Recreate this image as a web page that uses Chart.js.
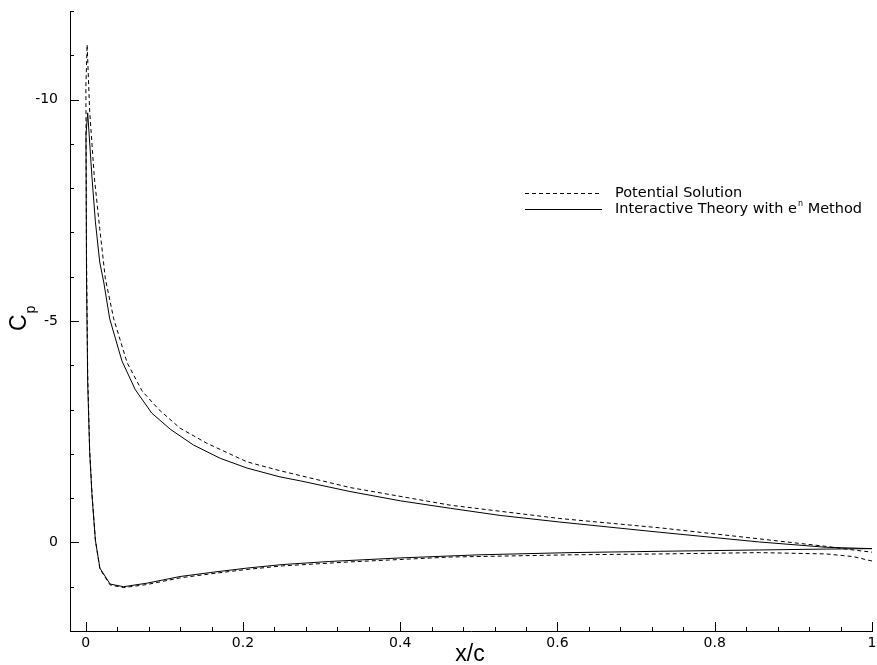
<!DOCTYPE html>
<html>
<head>
<meta charset="utf-8">
<script src="https://cdn.jsdelivr.net/npm/chart.js@4.4.0/dist/chart.umd.min.js"></script>
<style>html,body{margin:0;padding:0;background:#fff}canvas{display:block}</style>
</head>
<body>
<canvas id="cp" width="877" height="665"></canvas>
<script>
// Potential solution (dashed): lower TE -> leading edge -> upper TE
var potX = [1.0, 0.976, 0.942, 0.857, 0.73, 0.616, 0.464, 0.336, 0.25, 0.205, 0.163, 0.12, 0.078, 0.048, 0.031, 0.018, 0.0123, 0.008, 0.005, 0.0025, 0.001, 0.0002,
            0.0018, 0.005, 0.011, 0.0178, 0.025, 0.0356, 0.0526, 0.0717, 0.093, 0.12, 0.154, 0.205, 0.247, 0.336, 0.464, 0.603, 0.73, 0.857, 0.942, 0.976, 1.0];
var potCp = [0.42, 0.32, 0.26, 0.23, 0.26, 0.28, 0.33, 0.44, 0.53, 0.61, 0.70, 0.80, 0.95, 1.02, 0.96, 0.60, -0.05, -1.10, -2.10, -3.80, -6.50, -10.30,
            -11.24, -9.74, -8.23, -7.09, -5.95, -5.05, -4.06, -3.42, -3.00, -2.58, -2.24, -1.82, -1.62, -1.24, -0.84, -0.54, -0.33, -0.08, 0.09, 0.17, 0.22];
// Interactive theory with e^n method (solid)
var intX = [1.0, 0.942, 0.857, 0.73, 0.616, 0.5, 0.4, 0.31, 0.25, 0.205, 0.163, 0.12, 0.078, 0.048, 0.031, 0.018, 0.0123, 0.008, 0.005, 0.0025, 0.001, 0.0003,
            0.0025, 0.008, 0.0123, 0.0178, 0.0229, 0.0305, 0.046, 0.063, 0.084, 0.108, 0.137, 0.171, 0.205, 0.247, 0.273, 0.336, 0.4, 0.464, 0.527, 0.603, 0.73, 0.857, 0.942, 1.0];
var intCp = [0.14, 0.15, 0.17, 0.20, 0.23, 0.28, 0.35, 0.43, 0.50, 0.58, 0.67, 0.77, 0.92, 1.00, 0.94, 0.58, -0.05, -1.05, -2.05, -3.60, -6.00, -9.20,
            -9.70, -8.23, -7.24, -6.33, -5.88, -5.05, -4.10, -3.45, -2.92, -2.55, -2.20, -1.90, -1.68, -1.48, -1.39, -1.15, -0.94, -0.77, -0.61, -0.46, -0.23, -0.01, 0.11, 0.14];

var seriesNames = ['Potential Solution', 'Interactive Theory with e', 'n', ' Method'];
var xMajor = [0, 0.2, 0.4, 0.6, 0.8, 1];
var yMajor = [-10, -5, 0];

var xTickVals = [];
for (var i = 0; i <= 25; i++) xTickVals.push(+(i * 0.04).toFixed(2));
var yTickVals = [];
for (var j = -12; j <= 2; j++) yTickVals.push(j);

function pts(xs, ys) {
    return xs.map(function(x, k) { return {x: x, y: ys[k]}; });
}

var tickFont = {family: 'DejaVu Sans', size: 14};

// inward tick marks, axis titles and the legend box
var decor = {
    id: 'decor',
    afterDraw: function(chart) {
        var ctx = chart.ctx, a = chart.chartArea, sx = chart.scales.x, sy = chart.scales.y;
        ctx.save();
        ctx.strokeStyle = '#000';
        ctx.lineWidth = 1;
        ctx.beginPath();
        xTickVals.forEach(function(v) {
            var px = Math.round(sx.getPixelForValue(v)) + 0.5;
            var len = xMajor.indexOf(v) >= 0 ? 9 : 4;
            ctx.moveTo(px, a.bottom); ctx.lineTo(px, a.bottom - len);
        });
        yTickVals.forEach(function(v) {
            var py = Math.round(sy.getPixelForValue(v)) + 0.5;
            var len = yMajor.indexOf(v) >= 0 ? 9 : 4;
            ctx.moveTo(a.left, py); ctx.lineTo(a.left + len, py);
        });
        ctx.stroke();

        // axis titles
        ctx.fillStyle = '#000';
        ctx.font = '23px "Liberation Sans", Arial, sans-serif';
        ctx.textAlign = 'center';
        ctx.textBaseline = 'alphabetic';
        ctx.fillText('x/c', 470, 661);
        ctx.save();
        ctx.translate(20, 331);
        ctx.rotate(-Math.PI / 2);
        ctx.textAlign = 'left';
        ctx.textBaseline = 'middle';
        ctx.fillText('C', 0, 0);
        var cw = ctx.measureText('C').width;
        ctx.font = '14px "Liberation Sans", Arial, sans-serif';
        ctx.fillText('p', cw + 1, 11);
        ctx.restore();

        // legend
        var lx0 = 525, lx1 = 602, tx = 615, rows = [193, 209];
        var big = '14.5px "DejaVu Sans", sans-serif', small = '8px "DejaVu Sans", sans-serif';
        ctx.font = big;
        ctx.textAlign = 'left';
        ctx.textBaseline = 'middle';
        chart.data.datasets.forEach(function(ds, k) {
            var y = rows[k] + 0.5;
            ctx.setLineDash(ds.borderDash || []);
            ctx.beginPath(); ctx.moveTo(lx0, y); ctx.lineTo(lx1, y); ctx.stroke();
        });
        ctx.setLineDash([]);
        ctx.fillText(seriesNames[0], tx, rows[0]);
        ctx.fillText(seriesNames[1], tx, rows[1]);
        var w1 = ctx.measureText(seriesNames[1]).width;
        ctx.font = small;
        ctx.fillText(seriesNames[2], tx + w1 + 1, rows[1] - 5);
        var w2 = ctx.measureText(seriesNames[2]).width;
        ctx.font = big;
        ctx.fillText(seriesNames[3], tx + w1 + 1 + w2, rows[1]);
        ctx.restore();
    }
};

new Chart(document.getElementById('cp').getContext('2d'), {
    type: 'scatter',
    data: {
        datasets: [
            { label: 'Potential Solution', data: pts(potX, potCp), showLine: true, borderColor: '#000',
              borderWidth: 1, borderDash: [4, 3], pointRadius: 0, tension: 0 },
            { label: 'Interactive Theory with e^n Method', data: pts(intX, intCp), showLine: true, borderColor: '#000',
              borderWidth: 1, pointRadius: 0, tension: 0 }
        ]
    },
    options: {
        responsive: false,
        animation: false,
        layout: { padding: { top: 11, right: 5, left: 0, bottom: 0 } },
        plugins: { legend: { display: false }, tooltip: { enabled: false } },
        scales: {
            x: {
                type: 'linear', min: -0.02, max: 1,
                afterFit: function(s) { s.height = 34; s.paddingLeft = 0; s.paddingRight = 0; },
                afterBuildTicks: function(s) { s.ticks = xTickVals.map(function(v) { return {value: v}; }); },
                grid: { display: false, drawTicks: false },
                border: { display: true, color: '#000', width: 1 },
                ticks: { autoSkip: false, maxRotation: 0, padding: 4, color: '#000', font: tickFont,
                    callback: function(v) { return xMajor.indexOf(v) >= 0 ? String(v) : ''; } }
            },
            y: {
                type: 'linear', min: -12, max: 2, reverse: true,
                afterFit: function(s) { s.width = 70; s.paddingTop = 0; s.paddingBottom = 0; },
                afterBuildTicks: function(s) { s.ticks = yTickVals.map(function(v) { return {value: v}; }); },
                grid: { display: false, drawTicks: false },
                border: { display: true, color: '#000', width: 1 },
                ticks: { autoSkip: false, padding: 12, color: '#000', font: tickFont,
                    callback: function(v) { return yMajor.indexOf(v) >= 0 ? String(v) : ''; } }
            }
        }
    },
    plugins: [decor]
});
</script>
</body>
</html>
